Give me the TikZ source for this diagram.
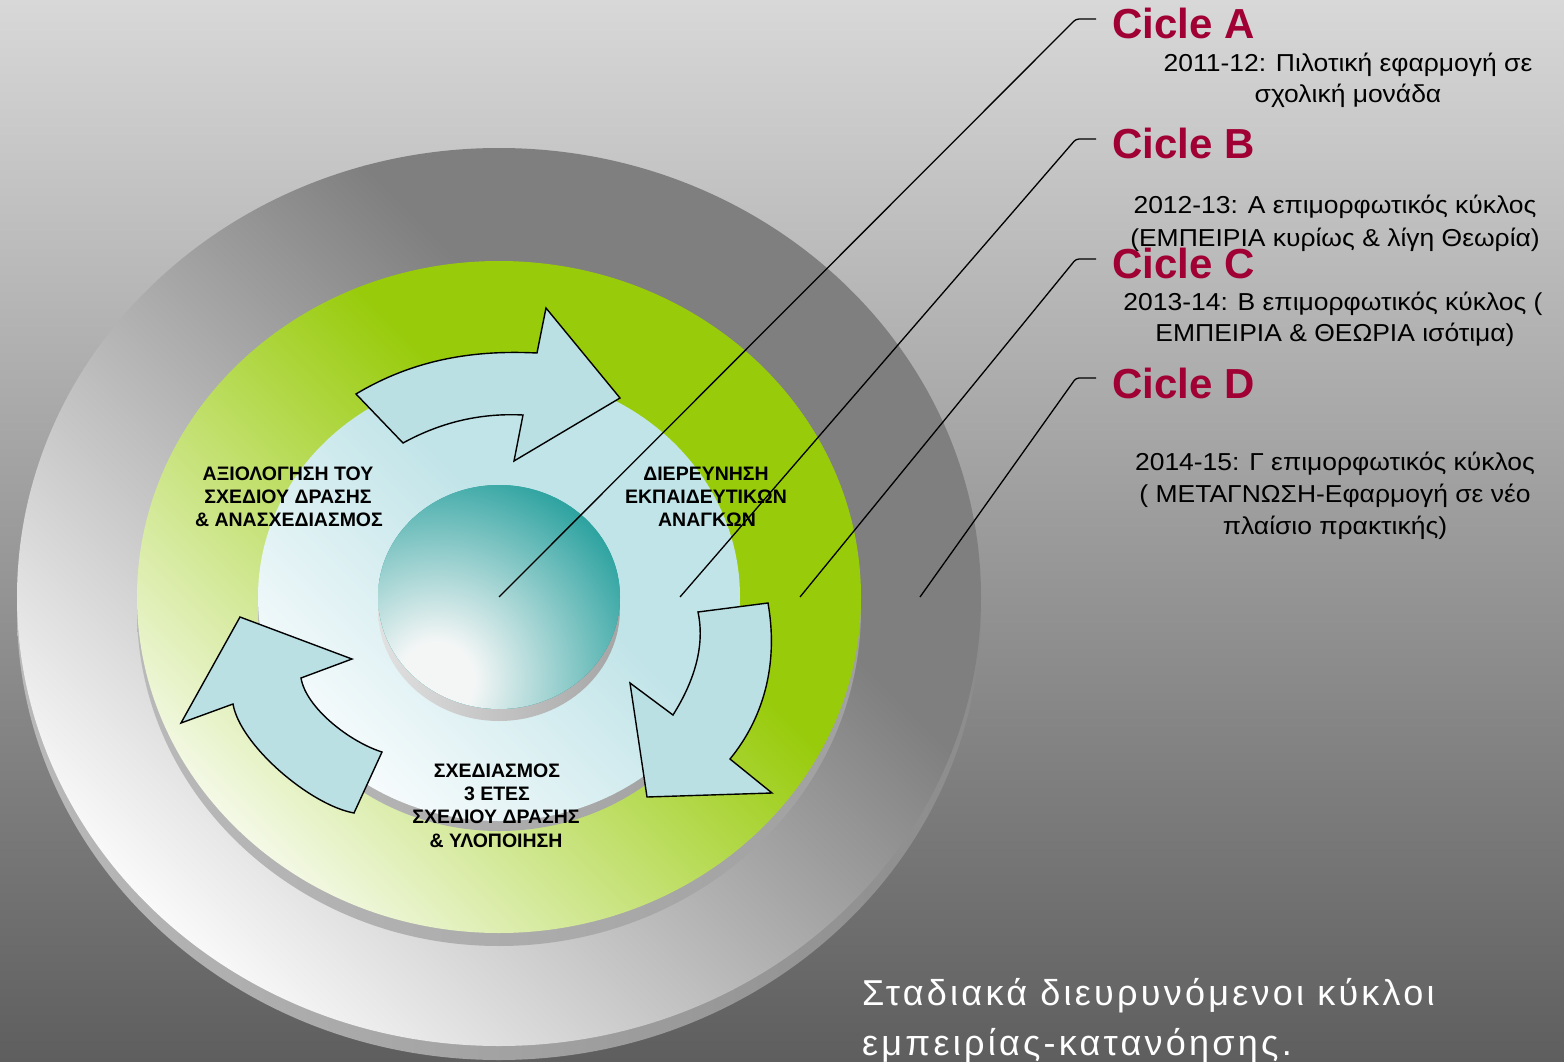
\documentclass[tikz,border=0pt]{standalone}
\usepackage{fontspec}
\setmainfont{Liberation Sans}
\newfontfamily\bodyfont[FakeStretch=1.08]{Liberation Sans}
\newfontfamily\capfont[LetterSpace=9]{Liberation Sans}
\definecolor{bgtop}{RGB}{216,216,216}
\definecolor{bgbot}{RGB}{94,94,94}
\definecolor{ringgray}{RGB}{127,127,127}
\definecolor{ringwhite}{RGB}{250,250,250}
\definecolor{ringrimL}{RGB}{185,185,185}
\definecolor{ringrimR}{RGB}{140,140,140}
\definecolor{grn}{RGB}{152,203,10}
\definecolor{grnlight}{RGB}{250,252,245}
\definecolor{rimL}{RGB}{185,185,185}
\definecolor{rimR}{RGB}{160,160,160}
\definecolor{blu}{RGB}{193,228,232}
\definecolor{blulight}{RGB}{248,252,253}
\definecolor{tealc}{RGB}{22,153,150}
\definecolor{teallight}{RGB}{244,246,246}
\definecolor{trimL}{RGB}{225,225,225}
\definecolor{trimR}{RGB}{165,165,165}
\definecolor{arrowfill}{RGB}{186,224,228}
\definecolor{ciclered}{RGB}{160,0,52}
\pgfdeclareradialshading{tealglow}{\pgfpoint{0bp}{0bp}}{%
  color(0bp)=(teallight); color(4bp)=(teallight); color(25bp)=(tealc); color(50bp)=(tealc)}
\newcommand{\diagfill}[4]{%
  \begin{scope}[transform canvas={rotate around={-45:(499,597)}}]
    \fill[#2] (-500,-600) rectangle (1500,597-#4+1);
    \shade[top color=#2,bottom color=#1] (-500,597-#4) rectangle (1500,597+#3);
    \fill[#1] (-500,597+#3-1) rectangle (1500,1800);
  \end{scope}}
\begin{document}
\begin{tikzpicture}[x=1pt,y=-1pt,
  cyclearrow/.style={draw=black,line width=1.4pt,fill=arrowfill,line join=miter},
  leader/.style={draw=black,line width=1.3pt,rounded corners=3pt},
  cicle/.style={anchor=base west,inner sep=0pt,text=ciclered,font=\fontsize{42}{50}\selectfont\bfseries},
  bodytxt/.style={anchor=base,inner sep=0pt,text=black,font=\bodyfont\fontsize{24.5}{32}\selectfont},
  innertxt/.style={anchor=base,inner sep=0pt,text=black,font=\fontsize{19.5}{23}\selectfont\bfseries},
  bottomtxt/.style={anchor=base west,inner sep=0pt,text=white,font=\capfont\fontsize{36}{50}\selectfont}]
\useasboundingbox (0,0) rectangle (1564,1062);
% background
\shade[top color=bgtop,bottom color=bgbot] (0,0) rectangle (1564,1062);
% outer grey disc
\shade[left color=ringrimL,right color=ringrimR] (499,611) ellipse (482pt and 449pt);
\begin{scope}
  \clip (499,597) ellipse (482pt and 449pt);
  \diagfill{ringwhite}{ringgray}{469}{210}
\end{scope}
% green disc
\shade[left color=rimL,right color=rimR] (499,610) ellipse (362pt and 336pt);
\begin{scope}
  \clip (499,597) ellipse (362pt and 336pt);
  \diagfill{grnlight}{grn}{380}{120}
\end{scope}
% light blue disc
\shade[left color=rimL,right color=rimR] (499,607) ellipse (241pt and 224pt);
\begin{scope}
  \clip (499,597) ellipse (241pt and 224pt);
  \diagfill{blulight}{blu}{233}{60}
\end{scope}
% teal centre
\shade[left color=trimL,right color=trimR] (499,609) ellipse (121pt and 112pt);
\fill[tealc] (499,597) ellipse (121pt and 112pt);
\begin{scope}
  \clip (499,597) ellipse (121pt and 112pt);
  \shade[shading=tealglow] (436,680) circle (240pt);
\end{scope}
% cycle arrows
\draw[cyclearrow] (403,443) -- (356,394) .. controls (416,358) and (477,350) .. (537,353)
  -- (546,308) -- (620,398) -- (514,461) -- (523,415)
  .. controls (483,413) and (443,421) .. (403,443) -- cycle;
\draw[cyclearrow] (698,612) -- (768,603) .. controls (778,660) and (766,715) .. (730,759)
  -- (772,793) -- (647,797) -- (630,683) -- (673,715)
  .. controls (695,680) and (705,645) .. (698,612) -- cycle;
\draw[cyclearrow] (382,752) -- (354,813) .. controls (310,805) and (240,745) .. (233,704)
  -- (181,723) -- (240,617) -- (352,659) -- (301,678)
  .. controls (306,708) and (350,742) .. (382,752) -- cycle;
% inner labels
\node[innertxt] (l1) at (288,480) {ΑΞΙΟΛΟΓΗΣΗ ΤΟΥ};
\node[innertxt] (l2) at (288,503) {ΣΧΕΔΙΟΥ ΔΡΑΣΗΣ};
\node[innertxt] (l3) at (289,526) {\& ΑΝΑΣΧΕΔΙΑΣΜΟΣ};
\node[innertxt] (r1) at (706,480) {ΔΙΕΡΕΥΝΗΣΗ};
\node[innertxt] (r2) at (706,503) {ΕΚΠΑΙΔΕΥΤΙΚΩΝ};
\node[innertxt] (r3) at (707,526) {ΑΝΑΓΚΩΝ};
\node[innertxt] (b1) at (497,777) {ΣΧΕΔΙΑΣΜΟΣ};
\node[innertxt] (b2) at (497,800) {3 ΕΤΕΣ};
\node[innertxt] (b3) at (496,823) {ΣΧΕΔΙΟΥ ΔΡΑΣΗΣ};
\node[innertxt] (b4) at (496,847) {\& ΥΛΟΠΟΙΗΣΗ};
% leader lines
\coordinate (endA) at (499,597); \coordinate (kneeA) at (1076,19);  \coordinate (tipA) at (1096,19);
\coordinate (endB) at (680,597); \coordinate (kneeB) at (1076,139); \coordinate (tipB) at (1096,139);
\coordinate (endC) at (800,597); \coordinate (kneeC) at (1076,259); \coordinate (tipC) at (1096,259);
\coordinate (endD) at (920,597); \coordinate (kneeD) at (1076,378); \coordinate (tipD) at (1096,378);
\draw[leader] (endA) -- (kneeA) -- (tipA);
\draw[leader] (endB) -- (kneeB) -- (tipB);
\draw[leader] (endC) -- (kneeC) -- (tipC);
\draw[leader] (endD) -- (kneeD) -- (tipD);
% cycle titles
\node[cicle] (cA) at (1112,38.5) {Cicle A};
\node[cicle] (cB) at (1112,158.5) {Cicle B};
\node[cicle] (cC) at (1112,278.5) {Cicle C};
\node[cicle] (cD) at (1112,398.5) {Cicle D};
% descriptions
\node[bodytxt] (a1) at (1348,71.5) {2011-12: Πιλοτική εφαρμογή σε};
\node[bodytxt] (a2) at (1348,103) {σχολική μονάδα};
\node[bodytxt] (bb1) at (1335,213) {2012-13: Α επιμορφωτικός κύκλος};
\node[bodytxt] (bb2) at (1335,246) {(ΕΜΠΕΙΡΙΑ κυρίως \& λίγη Θεωρία)};
\node[bodytxt] (c1) at (1333,310) {2013-14: Β επιμορφωτικός κύκλος (};
\node[bodytxt] (c2) at (1335,341) {ΕΜΠΕΙΡΙΑ \& ΘΕΩΡΙΑ ισότιμα)};
\node[bodytxt] (d1) at (1335,470) {2014-15: Γ επιμορφωτικός κύκλος};
\node[bodytxt] (d2) at (1335,502.5) {( ΜΕΤΑΓΝΩΣΗ-Εφαρμογή σε νέο};
\node[bodytxt] (d3) at (1335,534) {πλαίσιο πρακτικής)};
% bottom caption
\node[bottomtxt] (s1) at (862,1005) {Σταδιακά διευρυνόμενοι κύκλοι};
\node[bottomtxt] (s2) at (862,1055) {εμπειρίας-κατανόησης.};
\end{tikzpicture}
\end{document}
